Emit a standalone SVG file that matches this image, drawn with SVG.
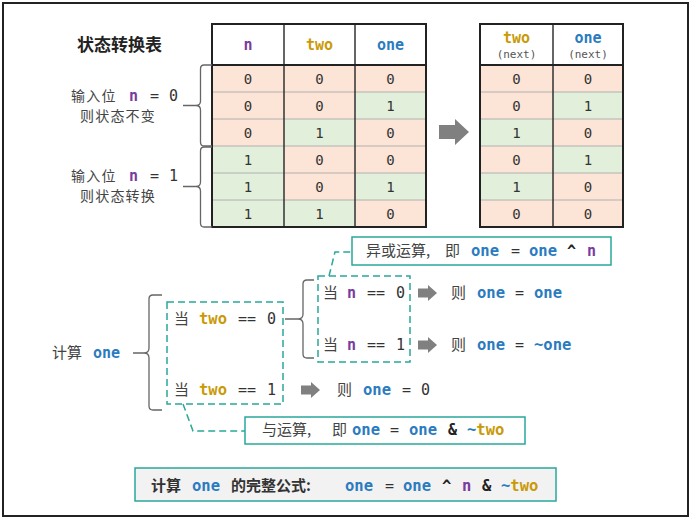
<svg xmlns="http://www.w3.org/2000/svg" width="692" height="520" viewBox="0 0 692 520">
<defs>
<style>
.cn{font-family:"Noto Sans CJK SC","Noto Sans",sans-serif;fill:#444;font-size:15px}
.lab{font-size:14px;letter-spacing:1.2px}
.mono{font-family:"DejaVu Sans Mono","Liberation Mono",monospace;fill:#333;letter-spacing:0}
.b{font-weight:bold}
.one{fill:#2b7bbf;font-weight:bold}
.two{fill:#c99a06;font-weight:bold}
.n{fill:#7a3c9e;font-weight:bold}
.op{fill:#222;font-weight:bold}
.dig{font-family:"DejaVu Sans Mono","Liberation Mono",monospace;fill:#333;font-size:14px;text-anchor:middle}
.pe{fill:#fce4d6}
.gr{fill:#e2efda}
.rowline{stroke:#b0b0b0;stroke-width:1}
.frame{fill:none;stroke:#222;stroke-width:2}
.brace{fill:none;stroke:#666;stroke-width:1.3}
.dash{fill:none;stroke:#2aa89a;stroke-width:1.5;stroke-dasharray:7,4}
.note{fill:#fff;stroke:#2aa89a;stroke-width:1.5}
.arrow{fill:#808080}
</style>
<path id="bigArrow" d="M0,-7 H16 V-13 L30,0 L16,13 V7 H0 Z"/>
<path id="smallArrow" d="M0,-4.5 H10 V-8 L19,0 L10,8 V4.5 H0 Z"/>
</defs>
<rect x="3" y="3" width="685" height="513" fill="#fff" stroke="#222" stroke-width="2"/>

<g id="title">
<text x="77" y="51" class="cn b" style="font-size:17px;fill:#222">状态转换表</text>
</g>

<g id="table1">
<rect x="212" y="24" width="214" height="41" fill="#fff"/>
<rect x="212" y="65" width="72" height="27" class="pe"/>
<rect x="212" y="92" width="72" height="27" class="pe"/>
<rect x="212" y="119" width="72" height="27" class="pe"/>
<rect x="212" y="146" width="72" height="27" class="gr"/>
<rect x="212" y="173" width="72" height="27" class="gr"/>
<rect x="212" y="200" width="72" height="27" class="gr"/>
<rect x="284" y="65" width="71" height="27" class="pe"/>
<rect x="284" y="92" width="71" height="27" class="pe"/>
<rect x="284" y="119" width="71" height="27" class="gr"/>
<rect x="284" y="146" width="71" height="27" class="pe"/>
<rect x="284" y="173" width="71" height="27" class="pe"/>
<rect x="284" y="200" width="71" height="27" class="gr"/>
<rect x="355" y="65" width="71" height="27" class="pe"/>
<rect x="355" y="92" width="71" height="27" class="gr"/>
<rect x="355" y="119" width="71" height="27" class="pe"/>
<rect x="355" y="146" width="71" height="27" class="pe"/>
<rect x="355" y="173" width="71" height="27" class="gr"/>
<rect x="355" y="200" width="71" height="27" class="pe"/>
<path class="rowline" d="M212,92H426M212,119H426M212,146H426M212,173H426M212,200H426"/>
<path d="M284,24V227M355,24V227" stroke="#333" stroke-width="1.5"/>
<path d="M212,65H426" stroke="#222" stroke-width="2"/>
<rect x="212" y="24" width="214" height="203" class="frame"/>
<text x="248" y="50" class="mono n" text-anchor="middle" style="font-size:15px">n</text>
<text x="319.5" y="50" class="mono two" text-anchor="middle" style="font-size:15px">two</text>
<text x="390.5" y="50" class="mono one" text-anchor="middle" style="font-size:15px">one</text>
<text class="dig" x="248" y="83.5">0</text><text class="dig" x="319.5" y="83.5">0</text><text class="dig" x="390.5" y="83.5">0</text>
<text class="dig" x="248" y="110.5">0</text><text class="dig" x="319.5" y="110.5">0</text><text class="dig" x="390.5" y="110.5">1</text>
<text class="dig" x="248" y="137.5">0</text><text class="dig" x="319.5" y="137.5">1</text><text class="dig" x="390.5" y="137.5">0</text>
<text class="dig" x="248" y="164.5">1</text><text class="dig" x="319.5" y="164.5">0</text><text class="dig" x="390.5" y="164.5">0</text>
<text class="dig" x="248" y="191.5">1</text><text class="dig" x="319.5" y="191.5">0</text><text class="dig" x="390.5" y="191.5">1</text>
<text class="dig" x="248" y="218.5">1</text><text class="dig" x="319.5" y="218.5">1</text><text class="dig" x="390.5" y="218.5">0</text>
</g>

<g id="table2">
<rect x="480" y="24" width="143" height="41" fill="#fff"/>
<rect x="480" y="65" width="73" height="27" class="pe"/>
<rect x="480" y="92" width="73" height="27" class="pe"/>
<rect x="480" y="119" width="73" height="27" class="gr"/>
<rect x="480" y="146" width="73" height="27" class="pe"/>
<rect x="480" y="173" width="73" height="27" class="gr"/>
<rect x="480" y="200" width="73" height="27" class="pe"/>
<rect x="553" y="65" width="70" height="27" class="pe"/>
<rect x="553" y="92" width="70" height="27" class="gr"/>
<rect x="553" y="119" width="70" height="27" class="pe"/>
<rect x="553" y="146" width="70" height="27" class="gr"/>
<rect x="553" y="173" width="70" height="27" class="pe"/>
<rect x="553" y="200" width="70" height="27" class="pe"/>
<path class="rowline" d="M480,92H623M480,119H623M480,146H623M480,173H623M480,200H623"/>
<path d="M553,24V227" stroke="#333" stroke-width="1.5"/>
<path d="M480,65H623" stroke="#222" stroke-width="2"/>
<rect x="480" y="24" width="143" height="203" class="frame"/>
<text x="516.5" y="43" class="mono two" text-anchor="middle" style="font-size:15px">two</text>
<text x="516.5" y="58" class="mono" text-anchor="middle" style="font-size:11px;fill:#555">(next)</text>
<text x="588" y="43" class="mono one" text-anchor="middle" style="font-size:15px">one</text>
<text x="588" y="58" class="mono" text-anchor="middle" style="font-size:11px;fill:#555">(next)</text>
<text class="dig" x="516.5" y="83.5">0</text><text class="dig" x="588" y="83.5">0</text>
<text class="dig" x="516.5" y="110.5">0</text><text class="dig" x="588" y="110.5">1</text>
<text class="dig" x="516.5" y="137.5">1</text><text class="dig" x="588" y="137.5">0</text>
<text class="dig" x="516.5" y="164.5">0</text><text class="dig" x="588" y="164.5">1</text>
<text class="dig" x="516.5" y="191.5">1</text><text class="dig" x="588" y="191.5">0</text>
<text class="dig" x="516.5" y="218.5">0</text><text class="dig" x="588" y="218.5">0</text>
</g>

<g id="label-n0">
<text y="101" class="cn lab"><tspan x="71">输入位</tspan><tspan x="129" class="mono n" style="font-size:15px">n</tspan><tspan x="150" class="mono" style="font-size:15px">=</tspan><tspan x="169" class="mono" style="font-size:15px">0</tspan></text>
<text x="80" y="121" class="cn lab">则状态不变</text>
</g>
<g id="label-n1">
<text y="181" class="cn lab"><tspan x="71">输入位</tspan><tspan x="129" class="mono n" style="font-size:15px">n</tspan><tspan x="150" class="mono" style="font-size:15px">=</tspan><tspan x="169" class="mono" style="font-size:15px">1</tspan></text>
<text x="80" y="201" class="cn lab">则状态转换</text>
</g>

<g id="label-calc">
<text y="358" class="cn"><tspan x="52">计算</tspan><tspan x="93" class="mono one" style="font-size:15px">one</tspan></text>
</g>

<g id="two0-box">
<rect x="167" y="302" width="116" height="102" class="dash"/>
<text y="324" class="cn"><tspan x="174">当</tspan><tspan x="199" class="mono two" style="font-size:15.5px">two</tspan><tspan x="238" class="mono" style="font-size:15px">==</tspan><tspan x="267" class="mono" style="font-size:15px">0</tspan></text>
<text y="395" class="cn"><tspan x="174">当</tspan><tspan x="199" class="mono two" style="font-size:15.5px">two</tspan><tspan x="238" class="mono" style="font-size:15px">==</tspan><tspan x="267" class="mono" style="font-size:15px">1</tspan></text>
</g>

<g id="n-box">
<rect x="318" y="276" width="92" height="86" class="dash"/>
<text y="298" class="cn"><tspan x="323">当</tspan><tspan x="347" class="mono n" style="font-size:15px">n</tspan><tspan x="367" class="mono" style="font-size:15px">==</tspan><tspan x="396" class="mono" style="font-size:15px">0</tspan></text>
<text y="350" class="cn"><tspan x="323">当</tspan><tspan x="347" class="mono n" style="font-size:15px">n</tspan><tspan x="367" class="mono" style="font-size:15px">==</tspan><tspan x="396" class="mono" style="font-size:15px">1</tspan></text>
</g>

<g id="result-n0">
<text y="298" class="cn"><tspan x="451">则</tspan><tspan x="477" class="mono one" style="font-size:15.5px">one</tspan><tspan x="515" class="mono" style="font-size:15px">=</tspan><tspan x="534" class="mono one" style="font-size:15.5px">one</tspan></text>
</g>
<g id="result-n1">
<text y="350" class="cn"><tspan x="451">则</tspan><tspan x="477" class="mono one" style="font-size:15.5px">one</tspan><tspan x="515" class="mono" style="font-size:15px">=</tspan><tspan x="534" class="mono one" style="font-size:15.5px">~one</tspan></text>
</g>
<g id="result-two1">
<text y="395" class="cn"><tspan x="337">则</tspan><tspan x="363" class="mono one" style="font-size:15.5px">one</tspan><tspan x="402" class="mono" style="font-size:15px">=</tspan><tspan x="421" class="mono" style="font-size:15px">0</tspan></text>
</g>

<g id="note-xor">
<rect x="352" y="237" width="259" height="28" class="note"/>
<text y="256" class="cn"><tspan x="366">异或运算,</tspan><tspan x="445">即</tspan><tspan x="471" class="mono one" style="font-size:15.5px">one</tspan><tspan x="511" class="mono" style="font-size:15px">=</tspan><tspan x="529" class="mono one" style="font-size:15.5px">one</tspan><tspan x="567" class="mono op" style="font-size:15px">^</tspan><tspan x="587" class="mono n" style="font-size:15px">n</tspan></text>
</g>

<g id="note-and">
<rect x="245" y="417" width="280" height="27" class="note"/>
<text y="435" class="cn"><tspan x="262">与运算,</tspan><tspan x="332">即</tspan><tspan x="352" class="mono one" style="font-size:15.5px">one</tspan><tspan x="390" class="mono" style="font-size:15px">=</tspan><tspan x="409" class="mono one" style="font-size:15.5px">one</tspan><tspan x="448" class="mono op" style="font-size:15px">&amp;</tspan><tspan x="467" class="mono one" style="font-size:15.5px">~</tspan><tspan class="mono two" style="font-size:15.5px">two</tspan></text>
</g>

<g id="formula">
<rect x="135" y="468" width="421" height="33" fill="#f2f2f2" stroke="#2aa89a" stroke-width="1.5"/>
<text y="491" class="cn b" style="fill:#333"><tspan x="151">计算</tspan><tspan x="192" class="mono one" style="font-size:15.5px">one</tspan><tspan x="231">的完整公式:</tspan></text>
<text y="491" class="mono" style="font-size:15.5px"><tspan x="345" class="one">one</tspan><tspan x="385" style="font-size:15px">=</tspan><tspan x="403" class="one">one</tspan><tspan x="442" class="op">^</tspan><tspan x="462" class="n">n</tspan><tspan x="482" class="op">&amp;</tspan><tspan x="501" class="one">~</tspan><tspan class="two">two</tspan></text>
</g>

<g id="connectors">
<path class="brace" d="M212,65H204Q200.5,65 200.5,69V101Q200.5,105.5 196,105.5H183M196,105.5Q200.5,105.5 200.5,110V142Q200.5,146 204,146H212"/>
<path class="brace" d="M212,147H204Q200.5,147 200.5,151V182Q200.5,186.5 196,186.5H183M196,186.5Q200.5,186.5 200.5,191V223Q200.5,227 204,227H212"/>
<path class="brace" d="M162,295H153Q149,295 149,299V348Q149,353 144,353H133M144,353Q149,353 149,358V406Q149,410 153,410H162"/>
<path class="brace" d="M314,280H307Q303,280 303,284V314Q303,319 298,319H285M298,319Q303,319 303,324V354Q303,358 307,358H314"/>
<path class="dash" d="M329,276L335,252H352"/>
<path class="dash" d="M183,404L193,431H245"/>
<use href="#bigArrow" x="439" y="132" class="arrow"/>
<use href="#smallArrow" x="418" y="293" class="arrow"/>
<use href="#smallArrow" x="418" y="345" class="arrow"/>
<use href="#smallArrow" x="301" y="390" class="arrow"/>
</g>
</svg>
